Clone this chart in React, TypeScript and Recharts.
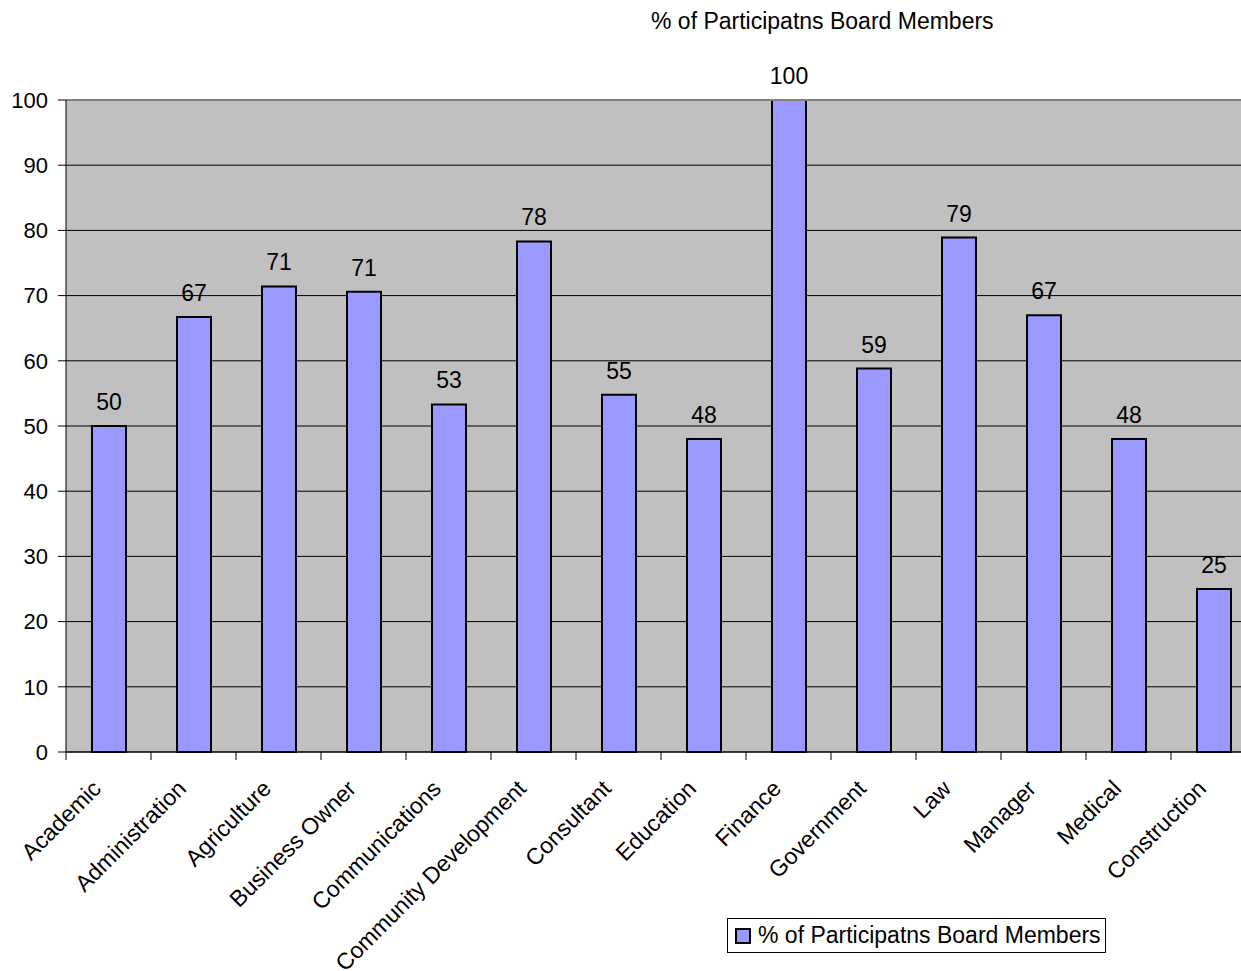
import { BarChart, Bar, XAxis, YAxis, CartesianGrid, LabelList, ReferenceLine } from 'recharts';

const categories = [
  'Academic',
  'Administration',
  'Agriculture',
  'Business Owner',
  'Communications',
  'Community Development',
  'Consultant',
  'Education',
  'Finance',
  'Government',
  'Law',
  'Manager',
  'Medical',
  'Construction',
];
const values = [50, 66.7, 71.4, 70.6, 53.3, 78.3, 54.8, 48, 100, 58.8, 78.9, 67, 48, 25];
const yTicks = [0, 10, 20, 30, 40, 50, 60, 70, 80, 90, 100];
const seriesName = '% of Participatns Board Members';

const data = categories.map((name, i) => ({ name, value: values[i] }));

const font = '"Liberation Sans", Arial, sans-serif';

function CategoryTick(props: any) {
  const { x, y, payload } = props;
  const half = payload?.offset ?? 42.5;
  return (
    <g>
      <line x1={x - half} y1={y} x2={x - half} y2={y + 8} stroke="#000" strokeWidth={1} />
      <text
        transform={`translate(${x - 6}, ${y + 38}) rotate(-45)`}
        textAnchor="end"
        fontSize={23}
        fontFamily={font}
        fill="#000"
      >
        {payload.value}
      </text>
    </g>
  );
}

export default function App() {
  return (
    <div
      style={{
        position: 'absolute',
        left: 0,
        top: 0,
        width: 1241,
        height: 971,
        overflow: 'hidden',
        background: '#fff',
        fontFamily: font,
      }}
    >
      <div
        style={{
          position: 'absolute',
          left: 651,
          top: 7,
          fontSize: 23,
          lineHeight: '28px',
          color: '#000',
          whiteSpace: 'nowrap',
        }}
      >
        {seriesName}
      </div>
      <BarChart
        width={1262}
        height={971}
        data={data}
        margin={{ top: 100, right: 6, left: 0, bottom: 0 }}
        barCategoryGap={0}
      >
        <CartesianGrid fill="#C0C0C0" stroke="#000" vertical={false} />
        <ReferenceLine y={100} stroke="#808080" strokeWidth={2} />
        <XAxis
          dataKey="name"
          interval={0}
          height={219}
          tickLine={false}
          tickSize={0}
          tickMargin={0}
          axisLine={{ stroke: '#000' }}
          tick={<CategoryTick />}
        />
        <YAxis
          domain={[0, 100]}
          ticks={yTicks}
          width={66}
          tickSize={8}
          tickMargin={10}
          axisLine={{ stroke: '#000' }}
          tickLine={{ stroke: '#000' }}
          tick={{ fill: '#000', fontSize: 22, fontFamily: font }}
        />
        <Bar dataKey="value" name={seriesName} fill="#9999FF" stroke="#000" strokeWidth={2} barSize={34} isAnimationActive={false}>
          <LabelList
            dataKey="value"
            position="top"
            offset={16}
            fill="#000"
            fontSize={23}
            fontFamily={font}
            formatter={(v: any) => Math.round(Number(v))}
          />
        </Bar>
      </BarChart>
      <div
        style={{
          position: 'absolute',
          left: 727,
          top: 918,
          width: 377,
          height: 33,
          border: '1px solid #000',
          display: 'flex',
          alignItems: 'center',
          fontSize: 23,
          color: '#000',
          whiteSpace: 'nowrap',
        }}
      >
        <span
          style={{
            display: 'inline-block',
            width: 12,
            height: 12,
            marginLeft: 7,
            marginRight: 7,
            background: '#9999FF',
            border: '2px solid #000',
          }}
        />
        {seriesName}
      </div>
    </div>
  );
}
